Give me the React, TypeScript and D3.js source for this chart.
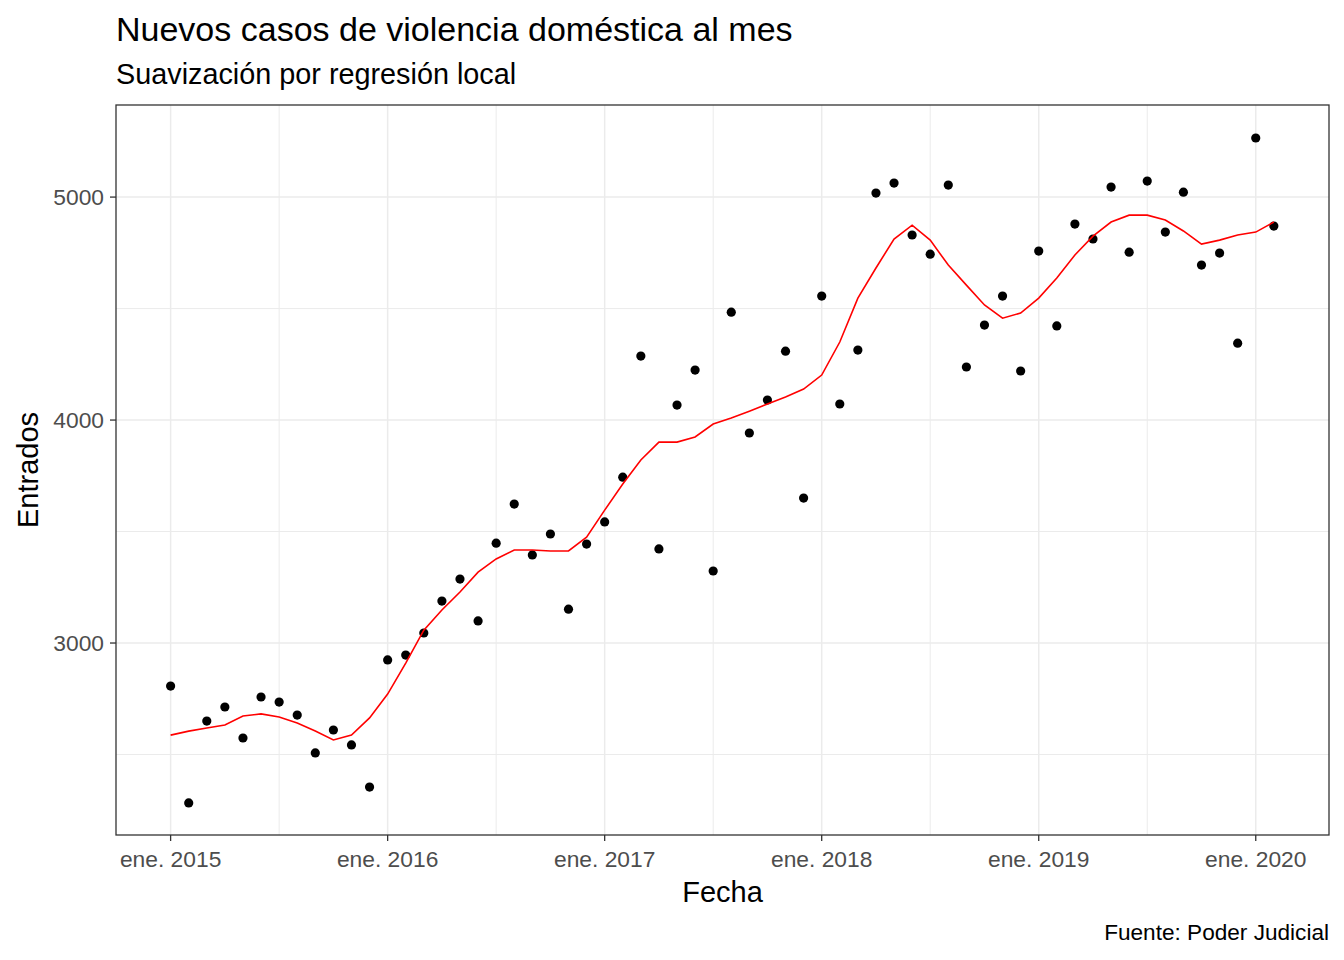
import * as d3 from "d3";
import React from "react";

// monthly values, ene. 2015 .. feb. 2020
const entrados = [
  2807, 2283, 2650, 2713, 2574, 2758, 2735, 2677, 2507, 2610, 2543, 2354,
  2924, 2946, 3045, 3188, 3287, 3099, 3448, 3623, 3395, 3489, 3152, 3444,
  3543, 3744, 4287, 3422, 4067, 4224, 3323, 4484, 3942, 4090, 4309, 3650,
  4556, 4072, 4314, 5018, 5063, 4830, 4744, 5054, 4238, 4426, 4556, 4220,
  4758, 4422, 4879, 4812, 5045, 4753, 5072, 4843, 5022, 4695, 4749, 4345,
  5265, 4870,
];
const suavizado = [
  2587, 2605, 2619, 2632, 2673, 2682, 2668, 2641, 2605, 2565, 2587, 2664,
  2771, 2910, 3058, 3148, 3229, 3318, 3377, 3417, 3417, 3413, 3413, 3475,
  3596, 3713, 3821, 3901, 3901, 3924, 3982, 4009, 4040, 4072, 4103, 4139,
  4202, 4350, 4547, 4682, 4812, 4874, 4807, 4695, 4605, 4516, 4457, 4480,
  4547, 4637, 4740, 4825, 4888, 4919, 4919, 4897, 4848, 4789, 4807, 4830,
  4843, 4888,
];
const xTickLabels = ["ene. 2015", "ene. 2016", "ene. 2017", "ene. 2018", "ene. 2019", "ene. 2020"];
const yTicks = [3000, 4000, 5000];
const yMinor = [2500, 3500, 4500];

export default function App() {
  const W = 1344, H = 960;
  const p = { left: 116, right: 1329, top: 105, bottom: 835 };
  const x = d3.scaleLinear().domain([-3.02, 64.05]).range([p.left, p.right]);
  const y = d3.scaleLinear().domain([2139, 5413]).range([p.bottom, p.top]);
  const line = d3.line<number>().x((_, i) => x(i)).y(d => y(d));
  const font = "'Liberation Sans', Arial, sans-serif";
  const grid = "#ebebeb";

  return (
    <svg width={W} height={H} style={{ position: "absolute", left: 0, top: 0, fontFamily: font }}>
      <rect width={W} height={H} fill="white" />
      <text x={116} y={41} fontSize={34} fill="black">Nuevos casos de violencia doméstica al mes</text>
      <text x={116} y={84} fontSize={28.8} fill="black">Suavización por regresión local</text>

      {xTickLabels.map((_, k) => (
        <line key={"xm" + k} x1={x(k * 12 + 6)} x2={x(k * 12 + 6)} y1={p.top} y2={p.bottom} stroke={grid} strokeWidth={1} />
      ))}
      {yMinor.map(t => (
        <line key={"ym" + t} x1={p.left} x2={p.right} y1={y(t)} y2={y(t)} stroke={grid} strokeWidth={1} />
      ))}
      {xTickLabels.map((_, k) => (
        <line key={"xg" + k} x1={x(k * 12)} x2={x(k * 12)} y1={p.top} y2={p.bottom} stroke={grid} strokeWidth={1.5} />
      ))}
      {yTicks.map(t => (
        <line key={"yg" + t} x1={p.left} x2={p.right} y1={y(t)} y2={y(t)} stroke={grid} strokeWidth={1.5} />
      ))}

      {entrados.map((v, i) => (
        <circle key={i} cx={x(i)} cy={y(v)} r={4.6} fill="black" />
      ))}
      <path d={line(suavizado) ?? undefined} fill="none" stroke="red" strokeWidth={1.6} />

      <rect x={p.left} y={p.top} width={p.right - p.left} height={p.bottom - p.top} fill="none" stroke="#333333" strokeWidth={1.3} />

      {xTickLabels.map((l, k) => (
        <g key={l}>
          <line x1={x(k * 12)} x2={x(k * 12)} y1={p.bottom} y2={p.bottom + 6} stroke="#333333" strokeWidth={1.3} />
          <text x={x(k * 12)} y={p.bottom + 32} fontSize={22.8} textAnchor="middle" fill="#4d4d4d">{l}</text>
        </g>
      ))}
      {yTicks.map(t => (
        <g key={t}>
          <line x1={p.left - 6} x2={p.left} y1={y(t)} y2={y(t)} stroke="#333333" strokeWidth={1.3} />
          <text x={p.left - 12} y={y(t)} dy="0.35em" fontSize={22.8} textAnchor="end" fill="#4d4d4d">{t}</text>
        </g>
      ))}

      <text x={(p.left + p.right) / 2} y={902} fontSize={29} textAnchor="middle" fill="black">Fecha</text>
      <text transform={`translate(38,${(p.top + p.bottom) / 2}) rotate(-90)`} fontSize={29} textAnchor="middle" fill="black">Entrados</text>
      <text x={1329} y={940} fontSize={22.6} textAnchor="end" fill="black">Fuente: Poder Judicial</text>
    </svg>
  );
}
